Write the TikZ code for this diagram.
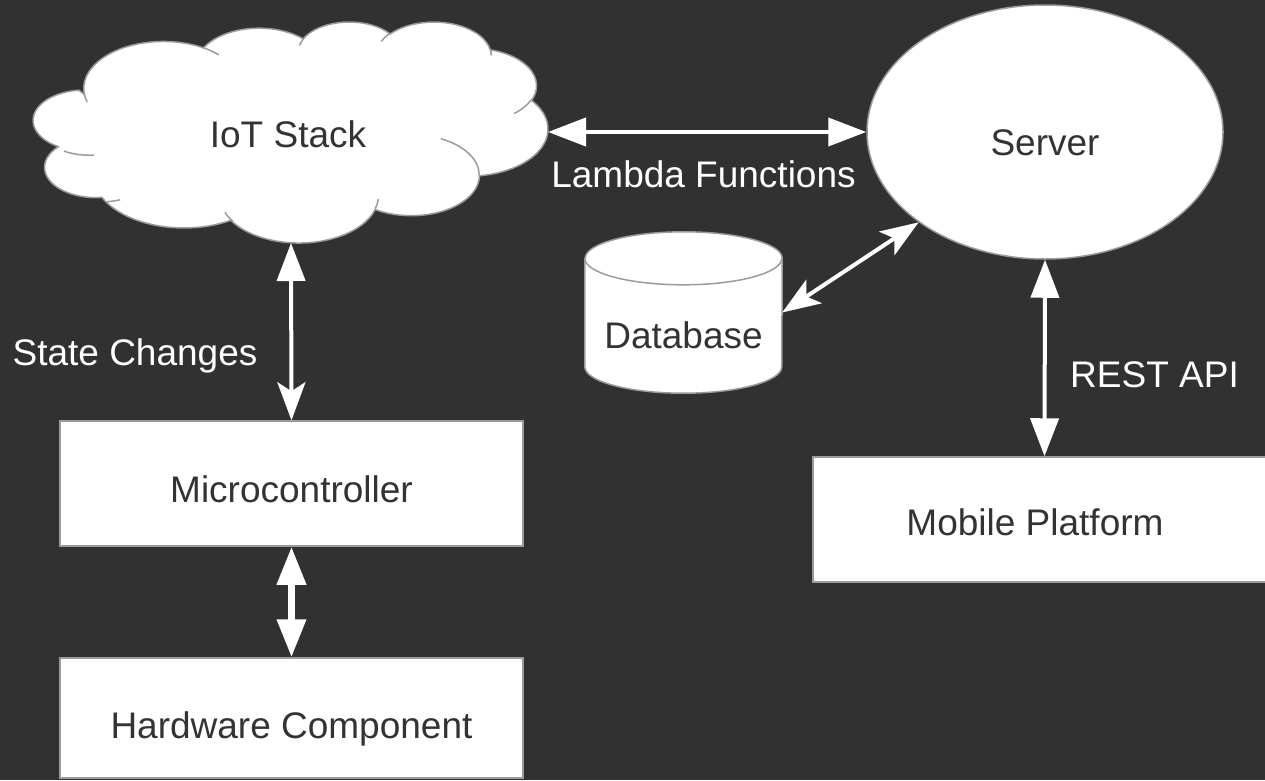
\documentclass[tikz,border=0pt]{standalone}
\usepackage{fontspec}
\setmainfont{Liberation Sans}
\usetikzlibrary{arrows.meta,shapes.geometric,calc}
\definecolor{bg}{RGB}{49,49,49}
\definecolor{edge}{RGB}{155,155,155}
\definecolor{ink}{RGB}{51,51,51}
% OOXML-style arcTo: wR, hR, start angle (visual), sweep
\newcommand\oarc[4]{arc[start angle={atan2((#1)*sin(#3),(#2)*cos(#3))}, delta angle={mod(atan2((#1)*sin((#3)+(#4)),(#2)*cos((#3)+(#4)))-atan2((#1)*sin(#3),(#2)*cos(#3))+720,360)}, x radius=#1pt, y radius=#2pt]}
\begin{document}
\begin{tikzpicture}[x=1pt,y=-1pt,
  txt/.style={font=\fontsize{37}{44}\selectfont, inner sep=0pt},
  wtxt/.style={txt, text=white, anchor=base},
  itxt/.style={txt, text=ink, anchor=base},
  outline/.style={draw=edge, line width=1.5pt},
  box/.style={txt, outline, fill=white, text=ink, text depth=0pt, minimum width=463, minimum height=125},
  link/.style={draw=white, line width=4pt},
  flat/.tip={Triangle[length=38pt,width=28pt]},
  barb/.tip={Stealth[length=38pt,width=28pt,inset=9pt]}
]
\useasboundingbox (0,0) rectangle (1265,780);
\fill[bg] (0,0) rectangle (1265,780);
\clip (0,0) rectangle (1265,780);

% cloud
\begin{scope}[shift={(38.5,21.3)}, xscale=1.1789, yscale=-0.5114]
\path[fill=white, outline] (39pt,143.7pt)
  \oarc{67.53}{91.90}{-190.4875}{123.7805}
  \oarc{53.33}{72.67}{-144.1024}{89.9452}
  \oarc{43.65}{59.45}{-145.8079}{99.7230}
  \oarc{48.57}{65.95}{-130.9861}{117.2417}
  \oarc{53.33}{72.73}{-78.7089}{109.0269}
  \oarc{67.75}{92.20}{-46.2673}{130.2690}
  \oarc{57.85}{78.67}{0.6250}{114.0333}
  \oarc{67.52}{92.15}{22.4584}{118.0281}
  \oarc{77.20}{105.43}{66.2426}{80.4836}
  \oarc{43.60}{59.18}{-274.9421}{146.7356}
  \oarc{43.45}{59.45}{-246.8285}{152.5189}
  -- cycle;
\path[outline]
  (46.93pt,261.77pt) \oarc{43.45}{59.45}{86.742}{26.430}
  (69.28pt,348.99pt) \oarc{43.60}{59.18}{73.610}{11.447}
  (164.78pt,390.90pt) \oarc{67.52}{92.15}{137.624}{14.081}
  (288.27pt,347.51pt) \oarc{67.52}{92.15}{6.453}{15.998}
  (341.29pt,229.54pt) \oarc{57.85}{78.67}{-70.292}{70.917}
  (417.98pt,153.54pt) \oarc{53.33}{72.73}{30.318}{27.752}
  (383.24pt,54.26pt) \oarc{48.57}{65.95}{-13.744}{14.859}
  (290.78pt,39.52pt) \oarc{48.57}{65.95}{-149.181}{18.195}
  (221.41pt,47.20pt) \oarc{43.65}{59.45}{-163.494}{17.686}
  (140.00pt,51.92pt) \oarc{67.53}{91.90}{-66.707}{12.319}
  (41.27pt,157.89pt) \oarc{67.53}{91.90}{157.654}{11.858};
\end{scope}
\node[itxt] (iot) at (288,147) {IoT Stack};
\coordinate (cloudE) at (548,132);
\coordinate (cloudS) at (291,243);

% server
\node[txt, ellipse, outline, fill=white, text=ink, minimum width=356, minimum height=254, text height=46pt, text depth=0pt] (server) at (1045,132) {Server};

% database
\node[inner sep=0pt, minimum width=197, minimum height=161] (db) at (683.5,312.5) {};
\path[outline, fill=white] ([yshift=-26.5pt]db.north west) -- ([yshift=26.5pt]db.south west)
  arc[start angle=180, end angle=360, x radius=98.5pt, y radius=26.5pt]
  -- ([yshift=-26.5pt]db.north east)
  arc[start angle=0, end angle=180, x radius=98.5pt, y radius=26.5pt] -- cycle;
\path[outline] ([yshift=-26.5pt]db.north west) arc[start angle=180, end angle=360, x radius=98.5pt, y radius=26.5pt];
\node[itxt] (dbtext) at (683.5,348) {Database};

% boxes
\node[box, text height=37pt] (micro) at (291.5,483.5) {Microcontroller};
\node[box, minimum height=120, text height=40pt] (hw) at (291.5,718) {Hardware Component};
\node[box, text height=31pt] (mobile) at (1044.5,519.5) {Mobile Platform\hspace*{19pt}};

% connectors
\draw[link, flat-flat] (cloudE) -- (server.west);
\draw[link, flat-barb] (cloudS) -- (micro.north);
\draw[link, line width=7pt, flat-flat] (micro.south) -- (hw.north);
\draw[link, barb-barb] (db.east) -- (server.south west);
\draw[link, flat-flat] (server.south) -- (mobile.north);

% labels
\node[wtxt] (lambda) at (703.5,187) {Lambda Functions};
\node[wtxt] (state) at (135,365) {State Changes};
\node[wtxt] (rest) at (1154.5,387) {REST API};
\end{tikzpicture}
\end{document}
